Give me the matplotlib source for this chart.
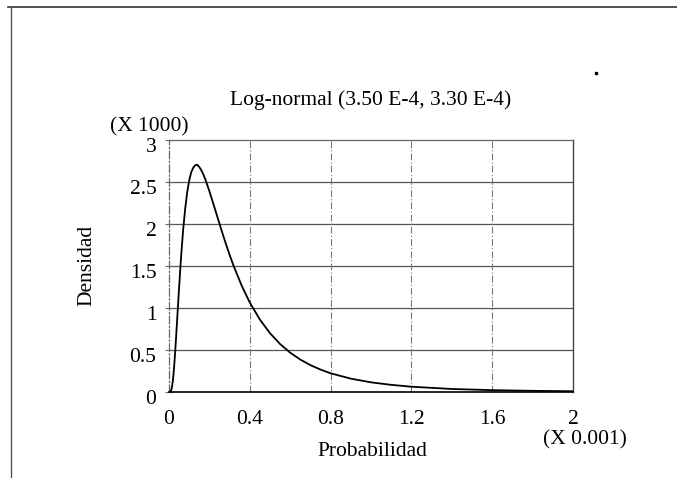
import matplotlib
matplotlib.use("Agg")
import matplotlib.pyplot as plt
from matplotlib.lines import Line2D
from matplotlib.transforms import ScaledTranslation

# Log-normal density (mean 3.50E-4, sd 3.30E-4); x in units of 0.001, y in units of 1000
prob = [0.000, 0.010, 0.015, 0.020, 0.025, 0.030, 0.035, 0.040, 0.050, 0.060,
        0.070, 0.080, 0.090, 0.100, 0.110, 0.120, 0.130, 0.140, 0.150, 0.160,
        0.170, 0.180, 0.200, 0.220, 0.240, 0.260, 0.280, 0.300, 0.320, 0.360,
        0.400, 0.450, 0.500, 0.550, 0.600, 0.650, 0.700, 0.750, 0.800, 0.900,
        1.000, 1.100, 1.200, 1.400, 1.600, 1.800, 2.000]
density = [0.000, 0.013, 0.061, 0.154, 0.290, 0.457, 0.648, 0.847, 1.246, 1.615,
           1.930, 2.180, 2.376, 2.520, 2.616, 2.670, 2.700, 2.705, 2.678, 2.640,
           2.590, 2.530, 2.390, 2.237, 2.080, 1.925, 1.775, 1.633, 1.500, 1.265,
           1.065, 0.862, 0.700, 0.571, 0.468, 0.386, 0.320, 0.267, 0.223, 0.159,
           0.115, 0.085, 0.063, 0.036, 0.022, 0.014, 0.009]

x_ticks = [0, 0.4, 0.8, 1.2, 1.6, 2]
x_tick_labels = ["0", "0.4", "0.8", "1.2", "1.6", "2"]
y_ticks = [0, 0.5, 1, 1.5, 2, 2.5, 3]
y_tick_labels = ["0", "0.5", "1", "1.5", "2", "2.5", "3"]

title = "Log-normal (3.50 E-4, 3.30 E-4)"
x_label = "Probabilidad"
y_label = "Densidad"
x_scale_note = "(X 0.001)"
y_scale_note = "(X 1000)"

plt.rcParams["font.family"] = ["Liberation Serif", "DejaVu Serif"]
FS = 15.5

W, H = 677, 478
fig = plt.figure(figsize=(W / 100, H / 100), dpi=100)
ax = fig.add_axes([169 / W, 1 - 392 / H, (573 - 169) / W, (392 - 140) / H])

ax.plot(prob, density, color="black", linewidth=1.3, solid_joinstyle="round",
        solid_capstyle="round", zorder=3)

ax.set_xlim(0, 2)
ax.set_ylim(0, 3)
ax.set_xticks(x_ticks)
ax.set_xticklabels(x_tick_labels, fontsize=FS)
ax.set_yticks(y_ticks)
ax.set_yticklabels(y_tick_labels, fontsize=FS)
ax.tick_params(axis="x", length=0, pad=13)
ax.tick_params(axis="y", direction="inout", length=6, width=0.8, color="#666666", pad=6)

# y labels sit a little below their ticks
shift = ScaledTranslation(0, -0.05, fig.dpi_scale_trans)
for lbl in ax.get_yticklabels():
    lbl.set_transform(lbl.get_transform() + shift)

# grid: solid horizontal rules, dash-dot vertical rules
for yv in y_ticks[1:-1]:
    ax.axhline(yv, color="#555555", linewidth=0.9, zorder=1)
for xv in x_ticks[1:-1]:
    ax.axvline(xv, color="#777777", linewidth=0.8, linestyle=(0, (6, 2, 1, 2)), zorder=1)

ax.spines["left"].set_color("#666666")
ax.spines["left"].set_linestyle((0, (6, 2, 1, 2)))
ax.spines["left"].set_linewidth(0.9)
ax.spines["top"].set_color("#666666")
ax.spines["top"].set_linewidth(0.9)
ax.spines["right"].set_color("#444444")
ax.spines["right"].set_linewidth(1.0)
ax.spines["bottom"].set_color("black")
ax.spines["bottom"].set_linewidth(1.2)

# text
fig.text(371 / W, 1 - 100 / H, title, fontsize=FS, ha="center", va="center")
fig.text(149 / W, 1 - 127 / H, y_scale_note, fontsize=FS, ha="center", va="center")
fig.text(585 / W, 1 - 440 / H, x_scale_note, fontsize=FS, ha="center", va="center")
fig.text(372 / W, 1 - 451 / H, x_label, fontsize=FS, ha="center", va="center")
fig.text(87 / W, 1 - 265 / H, y_label, fontsize=FS, ha="center", va="center", rotation=90)

# page frame
fig.add_artist(Line2D([8 / W, 1], [1 - 7 / H, 1 - 7 / H], transform=fig.transFigure,
                      color="#333333", linewidth=1.2))
fig.add_artist(Line2D([10.5 / W, 10.5 / W], [0, 1 - 7 / H], transform=fig.transFigure,
                      color="#555555", linewidth=1.0))
fig.add_artist(Line2D([596 / W], [1 - 73 / H], transform=fig.transFigure,
                      marker="s", markersize=2, color="black", linestyle="none"))

fig.savefig("out.png", dpi=100)
